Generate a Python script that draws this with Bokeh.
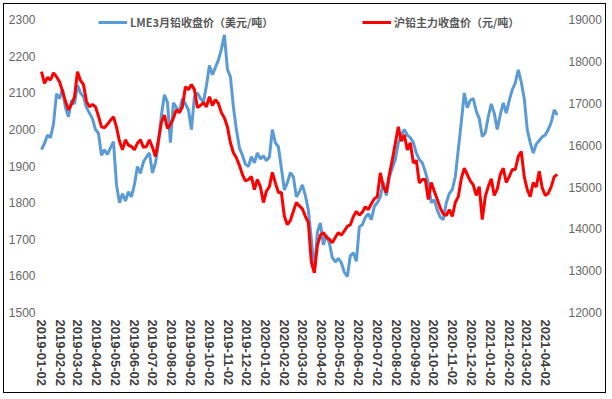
import pandas as pd
from datetime import datetime
from bokeh.plotting import figure
from bokeh.models import (Range1d, LinearAxis, FixedTicker, DatetimeTickFormatter,
                          SingleIntervalTicker, Legend, LegendItem, ColumnDataSource)
from bokeh.embed import file_html
from bokeh.resources import INLINE

# ---------------- data ----------------
first_date = "2019-01-02"
last_date = "2021-04-21"

lme_name = "LME3月铅收盘价（美元/吨）"
shfe_name = "沪铅主力收盘价（元/吨）"

lme = [
    1945, 1962, 1985, 1978, 2015, 2098, 2085, 2110, 2060, 2035,
    2080, 2070, 2122, 2100, 2090, 2060, 2045, 2030, 2000, 1990,
    1930, 1945, 1932, 1950, 1967, 1850, 1800, 1825, 1805, 1830,
    1816, 1850, 1899, 1880, 1912, 1925, 1936, 1882, 1909, 1960,
    2040, 2095, 2075, 1964, 2073, 2060, 2050, 2085, 2070, 2054,
    2000, 2090, 2100, 2085, 2075, 2120, 2175, 2150, 2170, 2190,
    2220, 2259, 2165, 2144, 2062, 2000, 1950, 1930, 1905, 1899,
    1926, 1909, 1936, 1920, 1928, 1915, 1925, 2000, 1964, 1953,
    1895, 1835, 1855, 1882, 1871, 1816, 1830, 1849, 1820, 1780,
    1700, 1612, 1720, 1745, 1685, 1712, 1690, 1650, 1638, 1648,
    1636, 1610, 1598, 1655, 1663, 1640, 1734, 1740, 1760, 1770,
    1754, 1790, 1800, 1816, 1855, 1820, 1870, 1895, 1918, 1964,
    1985, 2000, 1985, 1978, 1965, 1936, 1918, 1909, 1885, 1855,
    1800, 1808, 1780, 1760, 1754, 1800, 1825, 1836, 1871, 1945,
    2020, 2100, 2060, 2080, 2085, 2050, 2030, 1981, 1991, 2035,
    2070, 2045, 2000, 2040, 2073, 2045, 2080, 2109, 2127, 2163,
    2130, 2085, 2000, 1964, 1936, 1960, 1970, 1980, 1985, 2000,
    2020, 2054, 2040,
]

shfe = [
    17760, 17480, 17620, 17560, 17730, 17640, 17520, 17300, 17050, 16850,
    16980, 17150, 17760, 17550, 17450, 17050, 16920, 16980, 16920, 16700,
    16440, 16420, 16500, 16600, 16680, 16440, 16100, 15890, 16130, 16000,
    15970, 15890, 16050, 16130, 15950, 15970, 16130, 15950, 15730, 16130,
    16550, 16720, 16400, 16500, 16650, 16850, 16780, 16920, 17400, 17330,
    17450, 17330, 16900, 16950, 17020, 16920, 17160, 16950, 17090, 17000,
    16780, 16650, 16440, 16060, 15820, 15700, 15520, 15300, 15150, 15180,
    15250, 14940, 15180, 15010, 14630, 14900, 15010, 15350, 15100, 14870,
    14870, 14300, 14100, 14200, 14420, 14630, 14550, 14480, 14300, 14150,
    13200, 12950, 13600, 13850, 13910, 13800, 13750, 13670, 13800, 13910,
    13850, 13950, 14060, 14100, 14290, 14420, 14330, 14400, 14530, 14460,
    14600, 14720, 14770, 15340, 15010, 14870, 15300, 15650, 16050, 16440,
    16100, 16250, 15890, 16060, 15580, 15640, 15100, 15180, 15180, 14700,
    15110, 14900, 14700, 14500, 14360, 14320, 14460, 14300, 14630, 14770,
    15200, 15450, 15300, 15150, 15050, 14800, 15010, 14220, 14770, 15010,
    15200, 14800, 14950, 15300, 15450, 15110, 15250, 15420, 15420, 15730,
    15850, 15250, 14940, 14770, 15110, 15000, 15380, 14980, 14800, 14850,
    15010, 15250, 15300,
]

tick_labels = [
    "2019-01-02", "2019-02-02", "2019-03-02", "2019-04-02", "2019-05-02",
    "2019-06-02", "2019-07-02", "2019-08-02", "2019-09-02", "2019-10-02",
    "2019-11-02", "2019-12-02", "2020-01-02", "2020-02-02", "2020-03-02",
    "2020-04-02", "2020-05-02", "2020-06-02", "2020-07-02", "2020-08-02",
    "2020-09-02", "2020-10-02", "2020-11-02", "2020-12-02", "2021-01-02",
    "2021-02-02", "2021-03-02", "2021-04-02",
]

# axis ranges (a little head-room above the top tick for the legend)
left_range = (1500, 2320, 100)
right_range = (12000, 19175, 1000)

# ---------------- figure ----------------
dates = pd.date_range(first_date, last_date, periods=len(lme))
src = ColumnDataSource(dict(date=dates, lme=lme, shfe=shfe))

p = figure(width=603, height=390, output_backend="svg", toolbar_location=None,
           x_axis_type="datetime",
           x_range=Range1d(datetime(2018, 12, 28, 3), datetime(2021, 5, 1, 5)),
           y_range=Range1d(left_range[0], left_range[1]),
           min_border_left=34, min_border_right=44,
           min_border_top=8, min_border_bottom=82)
p.extra_y_ranges = {"right": Range1d(right_range[0], right_range[1])}
p.outline_line_color = None
p.xgrid.grid_line_color = None
p.ygrid.grid_line_color = None
p.background_fill_color = "white"
p.border_fill_color = "white"
p.styles = {"border": "1.5px solid #000000", "margin": "3px"}

blue = p.line("date", "lme", source=src, line_color="#5B9BD5", line_width=3)
red = p.line("date", "shfe", source=src, line_color="#FF0000", line_width=3,
             y_range_name="right")

# x axis
xa = p.xaxis[0]
xa.ticker = FixedTicker(ticks=[pd.Timestamp(s).timestamp() * 1000 for s in tick_labels])
fmt = "%Y-%m-%d"
xa.formatter = DatetimeTickFormatter(milliseconds=fmt, seconds=fmt, minsec=fmt, minutes=fmt,
                                     hourmin=fmt, hours=fmt, days=fmt, months=fmt, years=fmt)
xa.major_label_orientation = "vertical"
xa.major_label_text_font = "Liberation Sans"
xa.major_label_text_font_style = "bold"
xa.major_label_text_font_size = "13px"
xa.major_label_text_color = "#404040"
xa.major_label_standoff = 7

# left y axis
ya = p.yaxis[0]
ya.ticker = SingleIntervalTicker(interval=left_range[2])
ya.major_label_standoff = 3

# right y axis
ra = LinearAxis(y_range_name="right", ticker=SingleIntervalTicker(interval=right_range[2]))
ra.major_label_standoff = 5
p.add_layout(ra, "right")

for ax in (xa, ya, ra):
    ax.axis_line_color = None
    ax.major_tick_line_color = None
    ax.minor_tick_line_color = None
    ax.major_tick_out = 0
    ax.major_tick_in = 0
    ax.minor_tick_out = 0
    ax.minor_tick_in = 0
for ax in (ya, ra):
    ax.major_label_text_font = "Liberation Sans"
    ax.major_label_text_font_size = "12px"
    ax.major_label_text_color = "#666666"

# legends (two single-item legends placed at the top of the plot)
def make_legend(item_label, renderer, x):
    lg = Legend(items=[LegendItem(label=item_label, renderers=[renderer])],
                location=(x, 282), orientation="horizontal",
                padding=0, margin=0, border_line_color=None,
                background_fill_alpha=0, glyph_width=29, glyph_height=12,
                label_height=12, label_standoff=3,
                label_text_font="Noto Sans CJK SC", label_text_font_style="bold",
                label_text_font_size="11px", label_text_color="#595959")
    p.add_layout(lg, "center")

make_legend(lme_name, blue, 60)
make_legend(shfe_name, red, 324)

open("out.html", "w").write(file_html(p, INLINE))
